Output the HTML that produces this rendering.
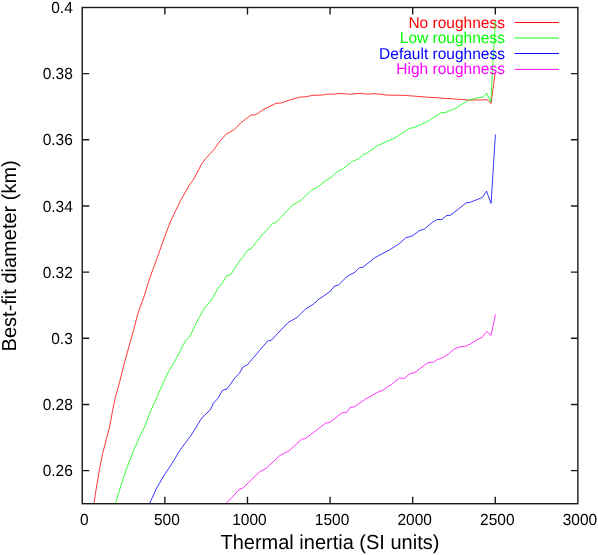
<!DOCTYPE html>
<html><head><meta charset="utf-8"><title>Best-fit diameter vs thermal inertia</title>
<style>html,body{margin:0;padding:0;background:#fff;}svg{display:block;will-change:transform;}text{font-family:"Liberation Sans",sans-serif;text-rendering:geometricPrecision;}</style></head><body>
<svg width="598" height="555" viewBox="0 0 598 555">
<rect x="0" y="0" width="598" height="555" fill="#fff"/>
<polyline points="93.9,503.5 96.5,487.0 99.4,469.7 102.6,453.8 106.3,439.4 110.0,425.0 112.3,412.0 115.1,398.3 119.5,382.5 123.8,365.2 127.4,352.2 129.4,345.0 133.7,329.9 137.3,315.5 140.2,306.8 144.5,295.3 148.8,280.9 152.4,270.8 154.6,265.0 161.6,245.5 166.7,231.1 171.0,220.3 180.4,200.9 189.5,184.8 193.7,179.2 201.6,164.1 205.9,158.3 213.9,149.7 218.9,142.5 226.1,134.1 234.5,129.5 240.5,123.0 251.4,114.8 255.0,115.1 260.0,111.9 264.1,109.2 276.2,103.2 280.3,103.2 288.4,100.4 299.3,97.2 305.2,96.8 312.7,95.4 321.9,95.1 326.9,94.2 333.6,94.1 340.3,93.5 350.0,94.2 361.7,93.3 366.7,94.2 375.0,93.7 387.0,95.1 405.2,95.4 425.3,97.0 450.0,98.7 470.2,100.1 487.0,99.8 491.1,103.5 495.3,72.0" fill="none" stroke="#ff0000" stroke-width="1.0" stroke-opacity="0.78" stroke-linejoin="round"/>
<text transform="translate(504.90,27.50) scale(1,1.015)" font-size="15.5" text-anchor="end" fill="#ff0000">No roughness</text>
<line x1="514.6" y1="22.5" x2="559" y2="22.5" stroke="#ff0000" stroke-width="1.0" stroke-opacity="0.95"/>
<polyline points="115.3,503.5 121.0,485.5 126.8,468.2 134.0,449.5 140.5,435.1 145.4,425.0 150.5,411.3 157.7,395.5 163.4,382.5 168.5,371.7 175.0,360.9 180.0,351.5 183.1,345.0 185.6,340.7 189.9,336.4 195.0,325.5 198.6,318.3 200.0,316.2 205.6,306.2 210.2,301.9 218.1,288.2 222.4,283.2 226.8,275.7 231.1,274.2 237.6,263.7 243.3,256.5 247.4,250.3 251.1,248.6 263.2,233.8 272.7,223.5 276.2,222.4 291.6,205.9 301.1,200.0 311.9,189.7 317.3,187.3 321.4,183.8 332.2,176.5 338.1,170.8 341.6,169.7 352.4,161.4 358.4,158.9 363.4,154.4 365.9,154.0 376.8,146.0 396.0,137.3 408.5,128.8 415.2,127.1 428.6,120.9 441.1,112.6 445.3,112.6 455.2,108.5 468.6,100.1 478.6,97.6 483.3,97.1 486.6,93.1 490.8,102.1 495.3,21.0" fill="none" stroke="#00ff00" stroke-width="1.0" stroke-opacity="0.78" stroke-linejoin="round"/>
<text transform="translate(504.90,43.10) scale(1,1.015)" font-size="15.5" text-anchor="end" fill="#00ff00">Low roughness</text>
<line x1="514.6" y1="38.0" x2="559" y2="38.0" stroke="#00ff00" stroke-width="1.0" stroke-opacity="0.95"/>
<polyline points="149.6,503.5 156.3,488.8 163.9,475.6 171.5,464.3 180.0,450.1 185.6,442.5 191.3,435.0 201.7,418.0 210.2,410.0 213.5,403.0 218.4,397.8 222.2,390.5 227.0,388.9 235.1,377.6 239.2,373.5 243.2,366.8 247.3,364.9 259.5,350.5 267.6,341.1 271.6,340.0 287.8,322.7 297.3,317.3 305.4,309.2 313.5,304.1 318.9,299.2 329.7,291.9 334.3,286.2 338.4,285.1 345.9,277.6 350.0,274.7 354.9,272.3 359.5,267.7 363.0,267.2 374.3,258.0 390.5,249.3 400.0,243.1 405.4,238.0 412.7,235.8 418.9,230.9 424.3,229.1 432.4,222.3 437.0,219.6 441.9,219.6 446.5,215.5 450.0,215.5 458.1,209.3 466.2,202.8 470.3,202.3 482.4,197.4 486.5,191.2 491.1,203.4 495.4,134.5" fill="none" stroke="#0000ff" stroke-width="1.0" stroke-opacity="0.78" stroke-linejoin="round"/>
<text transform="translate(504.90,58.90) scale(1,1.015)" font-size="15.5" text-anchor="end" fill="#0000ff">Default roughness</text>
<line x1="514.6" y1="53.5" x2="559" y2="53.5" stroke="#0000ff" stroke-width="1.0" stroke-opacity="0.95"/>
<polyline points="226.3,503.4 232.9,496.4 239.4,489.1 242.6,488.3 259.6,471.8 266.4,468.2 279.9,455.5 289.3,450.7 301.5,439.3 305.5,438.5 325.8,423.1 329.9,422.3 342.0,412.8 346.9,412.3 350.1,407.4 354.2,406.9 365.8,398.9 376.6,392.7 383.4,390.0 387.4,386.8 391.5,384.6 399.6,377.8 404.2,378.6 409.1,374.3 415.8,371.9 426.6,363.5 430.1,362.2 433.4,362.4 437.4,359.5 441.5,358.4 448.2,354.3 453.6,349.5 459.1,347.0 465.8,346.2 471.2,343.5 476.6,340.0 482.0,337.3 486.9,331.4 491.0,335.4 495.5,314.3" fill="none" stroke="#ff00ff" stroke-width="1.0" stroke-opacity="0.78" stroke-linejoin="round"/>
<text transform="translate(504.90,73.90) scale(1,1.015)" font-size="15.5" text-anchor="end" fill="#ff00ff">High roughness</text>
<line x1="514.6" y1="69.4" x2="559" y2="69.4" stroke="#ff00ff" stroke-width="1.0" stroke-opacity="0.95"/>
<rect x="82.25" y="7.5" width="495.6" height="496.2" fill="none" stroke="#1a1a1a" stroke-width="1.4"/>
<text transform="translate(84.25,524.60) scale(1,1.04)" font-size="15.5" text-anchor="middle" fill="#000">0</text>
<text transform="translate(166.86,524.60) scale(1,1.04)" font-size="15.5" text-anchor="middle" fill="#000">500</text>
<text transform="translate(249.47,524.60) scale(1,1.04)" font-size="15.5" text-anchor="middle" fill="#000">1000</text>
<text transform="translate(332.07,524.60) scale(1,1.04)" font-size="15.5" text-anchor="middle" fill="#000">1500</text>
<text transform="translate(414.68,524.60) scale(1,1.04)" font-size="15.5" text-anchor="middle" fill="#000">2000</text>
<text transform="translate(497.29,524.60) scale(1,1.04)" font-size="15.5" text-anchor="middle" fill="#000">2500</text>
<text transform="translate(579.90,524.60) scale(1,1.04)" font-size="15.5" text-anchor="middle" fill="#000">3000</text>
<text transform="translate(72.80,476.22) scale(1,1.04)" font-size="15.5" text-anchor="end" fill="#000">0.26</text>
<text transform="translate(72.80,410.06) scale(1,1.04)" font-size="15.5" text-anchor="end" fill="#000">0.28</text>
<text transform="translate(72.80,343.90) scale(1,1.04)" font-size="15.5" text-anchor="end" fill="#000">0.3</text>
<text transform="translate(72.80,277.74) scale(1,1.04)" font-size="15.5" text-anchor="end" fill="#000">0.32</text>
<text transform="translate(72.80,211.58) scale(1,1.04)" font-size="15.5" text-anchor="end" fill="#000">0.34</text>
<text transform="translate(72.80,145.42) scale(1,1.04)" font-size="15.5" text-anchor="end" fill="#000">0.36</text>
<text transform="translate(72.80,79.26) scale(1,1.04)" font-size="15.5" text-anchor="end" fill="#000">0.38</text>
<text transform="translate(72.80,13.10) scale(1,1.04)" font-size="15.5" text-anchor="end" fill="#000">0.4</text>
<path d="M164.86 503.7v-7M164.86 7.5v7M247.47 503.7v-7M247.47 7.5v7M330.07 503.7v-7M330.07 7.5v7M412.68 503.7v-7M412.68 7.5v7M495.29 503.7v-7M495.29 7.5v7M82.25 470.62h7M577.9 470.62h-7M82.25 404.46h7M577.9 404.46h-7M82.25 338.30h7M577.9 338.30h-7M82.25 272.14h7M577.9 272.14h-7M82.25 205.98h7M577.9 205.98h-7M82.25 139.82h7M577.9 139.82h-7M82.25 73.66h7M577.9 73.66h-7" stroke="#1a1a1a" stroke-width="1.4" fill="none"/>
<text transform="translate(329.90,549.20) scale(1,1.015)" font-size="20" text-anchor="middle" fill="#000">Thermal inertia (SI units)</text>
<text transform="translate(15.80,255.80) rotate(-90) scale(1,1.015)" font-size="20" text-anchor="middle" fill="#000">Best-fit diameter (km)</text>
</svg></body></html>
